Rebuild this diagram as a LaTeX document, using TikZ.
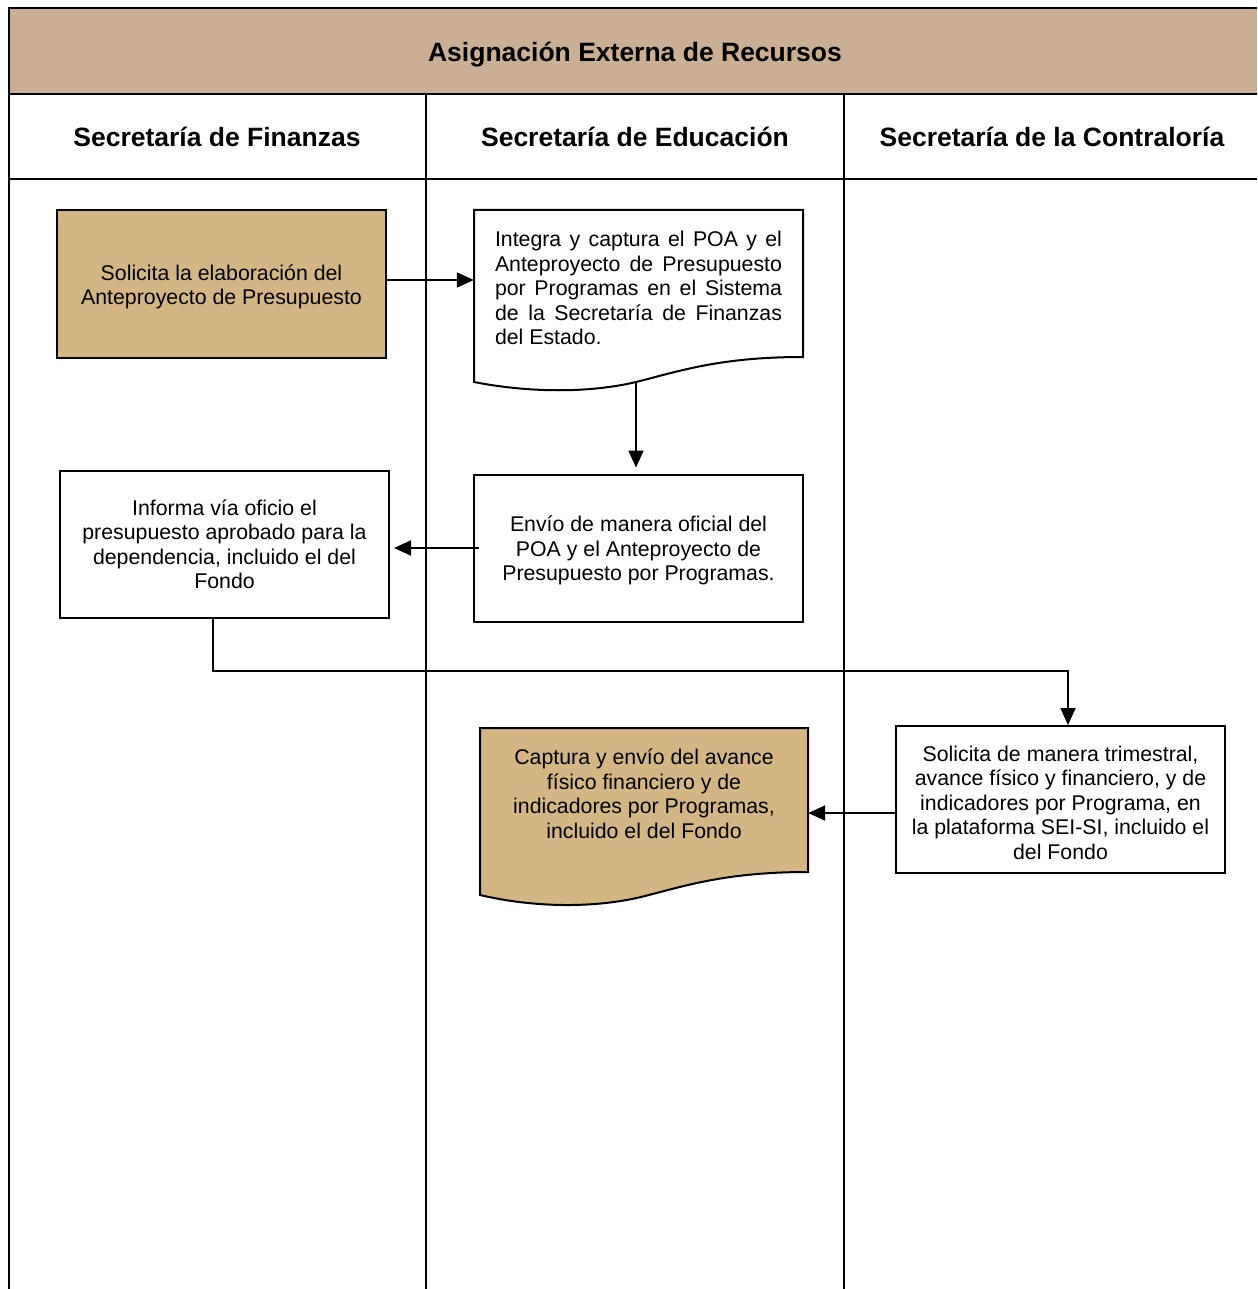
\documentclass[tikz,border=0pt]{standalone}
\usepackage{fontspec}
\setmainfont{Liberation Sans}
\usetikzlibrary{arrows.meta}
\definecolor{titlefill}{RGB}{202,175,148}
\definecolor{boxfill}{RGB}{212,182,132}
\tikzset{
 body/.style={font=\fontsize{21.3}{24.5}\selectfont, align=center, inner sep=0pt},
 head/.style={font=\fontsize{26.5}{30}\selectfont\bfseries, inner sep=0pt},
 procbox/.style={draw, line width=2pt, minimum width=329pt, minimum height=147pt},
 docshape/.style={draw, line width=2pt},
 conn/.style={line width=1.8pt, -{Triangle[length=17pt,width=15pt]}},
 frameline/.style={line width=2pt},
}
\begin{document}
\begin{tikzpicture}[x=1pt,y=-1pt]
\useasboundingbox (0,0) rectangle (1257,1289);
% frame
\fill[titlefill] (9,8) rectangle (1257,94);
\draw[frameline] (1257,8) -- (9,8) -- (9,1289);
\draw[frameline] (9,94) -- (1257,94);
\draw[frameline] (9,179) -- (1257,179);
\draw[frameline] (426,94) -- (426,1289);
\draw[frameline] (844,94) -- (844,1289);
% headings
\node[head] (title) at (635,55) {Asignación Externa de Recursos};
\node[head] (lane1) at (217,137) {Secretaría de Finanzas};
\node[head] (lane2) at (635,137) {Secretaría de Educación};
\node[head] (lane3) at (1052,137) {Secretaría de la Contraloría};
% boxes
\node[procbox, fill=boxfill, body] (solic) at (221.5,284) {};
\node[body] (solictxt) at (221.5,287) {Solicita la elaboración del\\Anteproyecto de Presupuesto};
% document shape: Integra
\draw[docshape, fill=white] (474,210) -- (803,210) -- (803,357) .. controls (720,357) and (680,371) .. (636,382) .. controls (590,393) and (530,393) .. (474,382) -- cycle;
\node[minimum width=329pt, minimum height=147pt, inner sep=0pt] (integra) at (638.5,283.5) {};
\node[body, align=justify, text width=287pt] (integratxt) at (638.5,288) {\hyphenpenalty=10000 Integra y captura el POA y el\linebreak Anteproyecto de Presupuesto\linebreak por Programas en el Sistema\linebreak de la Secretaría de Finanzas\linebreak del Estado.};
\coordinate (intb) at (636,382);
\node[procbox] (envio) at (638.5,548) {};
\node[body] (enviotxt) at (638.5,550.5) {Envío de manera oficial del\\POA y el Anteproyecto de\\Presupuesto por Programas.};
\node[procbox, body] (informa) at (224.5,544.5) {Informa vía oficio el\\presupuesto aprobado para la\\dependencia, incluido el del\\Fondo};
% document shape: Captura
\draw[docshape, fill=boxfill] (480,728) -- (808,728) -- (808,872) .. controls (725,872) and (685,886) .. (641,897) .. controls (595,908) and (535,908) .. (480,895) -- cycle;
\node[minimum width=328pt, minimum height=144pt, inner sep=0pt] (capt) at (644,800) {};
\node[body] (capttxt) at (644,794) {Captura y envío del avance\\físico financiero y de\\indicadores por Programas,\\incluido el del Fondo};
\node[procbox] (trim) at (1060.5,799.5) {};
\node[body] (trimtxt) at (1060.5,802.5) {Solicita de manera trimestral,\\avance físico y financiero, y de\\indicadores por Programa, en\\la plataforma SEI-SI, incluido el\\del Fondo};
% connectors
\draw[conn] (solic.east |- 0,280) -- (integra.west |- 0,280);
\draw[conn, shorten >=6pt] (intb) -- (intb |- envio.north);
\draw[conn, shorten >=4pt, shorten <=-6pt] (envio.west) -- (informa.east |- envio.west);
\draw[conn] (informa.south -| 213,0) -- (213,671) -- (1068,671) -- (trim.north -| 1068,0);
\draw[conn] (trim.west |- 0,813) -- (capt.east |- 0,813);
\end{tikzpicture}
\end{document}
